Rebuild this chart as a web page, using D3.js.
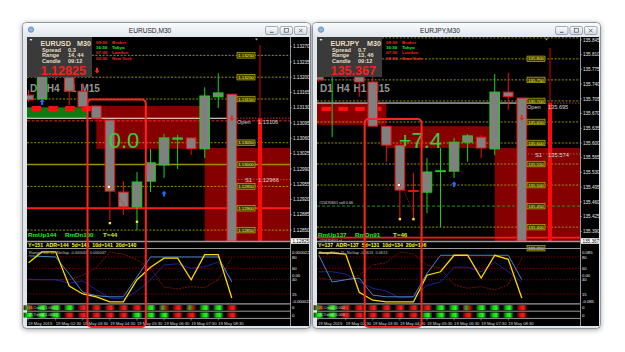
<!DOCTYPE html>
<html><head><meta charset="utf-8">
<script src="https://cdn.jsdelivr.net/npm/d3@7"></script>
<style>body{margin:0;background:#fff;overflow:hidden}svg{display:block}text{font-family:"Liberation Sans",Arial,sans-serif;white-space:pre}</style>
</head><body><svg id="c" width="625" height="352"></svg>
<script>
// ---------- DATA ----------
const times=["01:30","02:00","02:30","03:00","03:30","04:00","04:30","05:00","05:30","06:00","06:30","07:00","07:30","08:00","08:30","09:00"];
const dateLabel="19 May", yearLabel="19 May 2015";
const tfLabels=["D1","H4","H1","M15"];
const sessionTimes=["09:30","16:30","07:30","02:30"];
const sessionNames=["Broker","Tokyo","London","New York"];
const infoKeys=["Spread","Range","Candle"];

const eurusdOpen =[1.13159,1.13150,1.13235,1.13200,1.13168,1.13134,1.13102,1.12937,1.12903,1.12962,1.12999,1.13058,1.13061,1.13036,1.13155,1.13161];
const eurusdHigh =[1.13171,1.13207,1.13262,1.13200,1.13187,1.13134,1.13102,1.12962,1.12983,1.13036,1.13070,1.13068,1.13061,1.13177,1.13209,1.13161];
const eurusdLow  =[1.13143,1.13141,1.13193,1.13136,1.13129,1.13106,1.12873,1.12885,1.12850,1.12937,1.12969,1.12990,1.13022,1.13015,1.13129,1.12825];
const eurusdClose=[1.13148,1.13200,1.13203,1.13168,1.13132,1.13106,1.12939,1.12903,1.12960,1.13004,1.13061,1.13061,1.13036,1.13157,1.13164,1.12825];

const eurjpyOpen =[135.757,135.762,135.810,135.757,135.745,135.640,135.595,135.487,135.483,135.532,135.533,135.602,135.614,135.586,135.721,135.707];
const eurjpyHigh =[135.762,135.821,135.833,135.774,135.779,135.640,135.595,135.529,135.564,135.588,135.612,135.621,135.619,135.764,135.767,135.707];
const eurjpyLow  =[135.745,135.614,135.755,135.710,135.640,135.555,135.417,135.417,135.433,135.400,135.517,135.555,135.564,135.571,135.679,135.367];
const eurjpyClose=[135.750,135.798,135.774,135.745,135.640,135.595,135.488,135.485,135.531,135.534,135.602,135.617,135.588,135.721,135.710,135.367];

const eurusdRange=[1.12825,1.13292];
const eurjpyRange=[135.367,135.852];
const eurusdTicks=[1.13270,1.13235,1.13200,1.13165,1.13130,1.13095,1.13060,1.13025,1.12990,1.12955,1.12920,1.12885,1.12850];
const eurjpyTicks=[135.845,135.810,135.775,135.740,135.705,135.670,135.635,135.600,135.565,135.530,135.495,135.460,135.425,135.390];
const eurusdLevels=[1.13250,1.13200,1.13150,1.13050,1.13000,1.12950,1.12900,1.12850];
const eurjpyLevels=[135.850,135.800,135.750,135.700,135.650,135.600,135.550,135.500,135.450,135.400,135.350];
const eurusdZones=[[5,13,1.13036,1.13134],[13,20,1.12800,1.13038]];
const eurjpyZones=[[5,13,135.588,135.640],[13,20,135.300,135.588]];
const eurusdDay=[1.13106,1.13273,1.12825,1.12825];
const eurjpyDay=[135.695,135.826,135.367,135.367];

const eurusdYellow=[70,89,89,29,15,10,1,1,40,62,78,78,40,84,84,8];
const eurusdSteel =[82,81,80,50,18,12,10,10,45,80,80,80,80,80,80,36];
const eurusdNavy  =[41,40,40,34,38,22,8,6,20,40,66,68,60,63,71,40];
const eurusdMaroon=[40,40,40,40,48,61,89,85,75,60,27,24,28,26,40,78];
const eurjpyYellow=[87,87,85,18,4,1,1,1,48,54,83,83,43,83,76,8];
const eurjpySteel =[84,36,40,43,13,10,10,10,51,83,83,83,83,83,83,40];
const eurjpyNavy  =[54,54,50,36,25,20,8,10,30,36,62,62,54,71,54,36];
const eurjpyMaroon=[43,40,40,48,66,70,89,85,66,60,31,25,28,22,31,78];
const oscLevels=[80,60,40,15];

const eurusdStripA=[0,1,1,1,-1,-1,-1,-1,-1,1,0,-1,0,1,1,-1];
const eurusdStripB=[1,1,1,-1,-1,-1,-1,-1,1,1,1,-1,-1,1,1,-1];
const eurjpyStripA=[0,1,-1,-1,-1,-1,-1,-1,-1,1,1,0,1,1,1,-1];
const eurjpyStripB=[1,1,-1,-1,-1,-1,-1,-1,1,1,1,-1,1,1,1,-1];

const eurusdInfoVals=["0.3","14, 44","09:12"];
const eurjpyInfoVals=["0.7","13, 46","09:12"];
const eurusdStats="Y=151  ADR=144  5d=141  10d=141  20d=140";
const eurjpyStats="Y=137  ADR=137  5d=131  10d=134  20d=146";
const eurusdRoom=["RmUp144","RmDn100","T=44"];
const eurjpyRoom=["RmUp137","RmDn91","T=46"];

const charts=[
 {key:"eu",x0:22,title:"EURUSD,M30",sym:"EURUSD",fmt:".5f",price:1.12825,priceArrow:true,
  o:eurusdOpen,h:eurusdHigh,l:eurusdLow,c:eurusdClose,range:eurusdRange,ticks:eurusdTicks,levels:eurusdLevels,
  olive:1.13000,green:null,stop:1.12900,mid:1.13100,open:1.13106,s1:1.12966,zones:eurusdZones,day:eurusdDay,
  band:[1.13106,1.13131],bandEnd:4.4,bandColor:"#107a10",block:[1.13122,1.13134],
  ups:[[1,1.13143],[10,1.12933]],downs:[[15,1.13106]],trade:[6,1.12949,7.5,1.12889],marks:[[6,1.12866],[8,1.12869]],
  delta:"0.0",hl:[4.35,8.65,1.13149],info:eurusdInfoVals,stats:eurusdStats,room:eurusdRoom,
  osc:[eurusdMaroon,eurusdNavy,eurusdSteel,eurusdYellow],oscLbl:"RangeFilter 15  NoGap -0.000068  0.000047",oscTop:"0.000022",oscBot:"-0.000022",
  stripA:eurusdStripA,stripB:eurusdStripB,sA:"#I-Cross  1.000",sB:"#I-Trend  1.000",orders:[]},
 {key:"ej",x0:312,title:"EURJPY,M30",sym:"EURJPY",fmt:".3f",price:135.367,priceArrow:false,
  o:eurjpyOpen,h:eurjpyHigh,l:eurjpyLow,c:eurjpyClose,range:eurjpyRange,ticks:eurjpyTicks,levels:eurjpyLevels,
  olive:null,green:135.450,stop:135.375,mid:null,open:135.695,s1:135.574,zones:eurjpyZones,day:eurjpyDay,
  band:[135.643,135.695],bandEnd:5.0,bandColor:"#870000",block:[135.676,135.686],
  ups:[[10,135.502]],downs:[[15,135.660]],trade:[6,135.500,7.0,135.433],marks:[[6,135.419],[7,135.419]],
  delta:"+7.4",hl:[3.4,7.6,135.657],info:eurjpyInfoVals,stats:eurjpyStats,room:eurjpyRoom,
  osc:[eurjpyMaroon,eurjpyNavy,eurjpySteel,eurjpyYellow],oscLbl:"RangeFilter 15  NoGap -0.0613  0.0613",oscTop:"0.085",oscBot:"-0.085",
  stripA:eurjpyStripA,stripB:eurjpyStripB,sA:"#I-Cross  0.000",sB:"#I-Trend  0.000",orders:[[135.452,"#15670601 sell 0.66"],[135.362,"#15670601 sl"]]}
];

// ---------- DRAW ----------
const svg=d3.select("#c");
const defs=svg.append("defs");
const flt=defs.append("filter").attr("id","sh").attr("x","-6%").attr("y","-6%").attr("width","112%").attr("height","112%");
flt.append("feDropShadow").attr("dx",0).attr("dy",1).attr("stdDeviation",2.6).attr("flood-color","#000").attr("flood-opacity",0.35);
function lg(id,stops,horiz){
  const gr=defs.append("linearGradient").attr("id",id).attr("x1",0).attr("y1",0).attr("x2",horiz?1:0).attr("y2",horiz?0:1);
  stops.forEach((s,k)=>gr.append("stop").attr("offset",(k/(stops.length-1)*100)+"%").attr("stop-color",s));
}
lg("tb",["#f9fafc","#e3e8ee"]);
lg("btn",["#fdfdfe","#d3dae2"]);
lg("sr",["#3a0000","#d01010","#f02020","#3a0000"],true);
lg("sg",["#003a00","#10d010","#30f030","#003a00"],true);
lg("sm",["#600000","#30b030","#b02000","#4a0000"],true);

function upArrow(g,cx,cy,col,dir){
  const s=dir;
  g.append("path").attr("d",`M${cx},${cy-3*s} L${cx+2.6},${cy} L${cx+1},${cy} L${cx+1},${cy+2.8*s} L${cx-1},${cy+2.8*s} L${cx-1},${cy} L${cx-2.6},${cy} Z`).attr("fill",col);
}

function drawChart(c){
  const x0=c.x0,L=x0+5,R=x0+268,AX=x0+287,TOP=37,MB=241,BOT=326;
  const n=times.length;
  const x=d3.scaleLinear().domain([0,n-1]).range([x0+6.6,x0+209.8]);
  const y=d3.scaleLinear().domain(c.range).range([MB,TOP]);
  const yi=d3.scaleLinear().domain([0,100]).range([302.5,245.6]);
  const tfx=d3.scalePoint().domain(tfLabels).range([x0+8,x0+58.4]);
  const fmt=d3.format(c.fmt);
  const g=svg.append("g");

  // window frame
  g.append("rect").attr("x",x0+0.5).attr("y",22.5).attr("width",288).attr("height",306).attr("rx",4)
    .attr("fill","#e1e6ec").attr("stroke","#8d969f").attr("filter","url(#sh)");
  g.append("rect").attr("x",x0+1).attr("y",23).attr("width",287).attr("height",13).attr("rx",3.5).attr("fill","url(#tb)");
  g.append("text").attr("x",x0+128).attr("y",32.6).attr("text-anchor","middle").attr("font-size",6.6).attr("fill","#1e1e1e").text(c.title);
  g.append("circle").attr("cx",x0+9).attr("cy",29.6).attr("r",2.7).attr("fill","#8fb3dd").attr("stroke","#3d6fae").attr("stroke-width",0.6);
  [0,1,2].forEach(k=>{
    const bx=x0+243.5+k*14.5;
    g.append("rect").attr("x",bx).attr("y",26.5).attr("width",12.5).attr("height",8).attr("rx",1.6).attr("fill","url(#btn)").attr("stroke","#7d8791").attr("stroke-width",0.7);
    if(k===0) g.append("line").attr("x1",bx+4.5).attr("x2",bx+8).attr("y1",32.3).attr("y2",32.3).attr("stroke","#555").attr("stroke-width",0.9);
    if(k===1) g.append("rect").attr("x",bx+4.3).attr("y",28.6).attr("width",4).attr("height",3.6).attr("fill","none").attr("stroke","#555").attr("stroke-width",0.7);
    if(k===2) g.append("path").attr("d",`M${bx+4.5},${28.8} L${bx+8},${32.3} M${bx+8},${28.8} L${bx+4.5},${32.3}`).attr("stroke","#555").attr("stroke-width",0.8);
  });
  g.append("rect").attr("x",L).attr("y",TOP).attr("width",AX-L).attr("height",BOT-TOP).attr("fill","#000");

  const cid="clip-"+c.key;
  defs.append("clipPath").attr("id",cid).append("rect").attr("x",L).attr("y",TOP).attr("width",R-L).attr("height",MB-TOP);
  const m=g.append("g").attr("clip-path",`url(#${cid})`);

  // zones
  c.zones.forEach(z=>m.append("rect").attr("x",x(z[0])).attr("y",y(z[3])).attr("width",x(z[1])-x(z[0])).attr("height",y(z[2])-y(z[3])).attr("fill","#850000"));
  // trend band
  m.append("rect").attr("x",L).attr("y",y(c.band[1])).attr("width",x(c.bandEnd)-L).attr("height",y(c.band[0])-y(c.band[1])).attr("fill",c.bandColor);
  tfLabels.forEach(t=>m.append("rect").attr("x",tfx(t)+1.6).attr("y",y(c.block[1])).attr("width",9.5).attr("height",y(c.block[0])-y(c.block[1])).attr("fill","#ff1010"));

  // level lines
  c.levels.forEach(v=>{
    let s="#b9b900",w=0.8,d="2,1.6";
    if(v===c.olive){s="#a08c00";w=1.6;d=null;}
    if(v===c.green){s="#1ea51e";w=0.9;d="3,2";}
    m.append("line").attr("x1",L).attr("x2",R).attr("y1",y(v)).attr("y2",y(v)).attr("stroke",s).attr("stroke-width",w).attr("stroke-dasharray",d);
  });
  if(c.mid!==null) m.append("line").attr("x1",L).attr("x2",R).attr("y1",y(c.mid)).attr("y2",y(c.mid)).attr("stroke","#ff2a2a").attr("stroke-width",0.9).attr("stroke-dasharray","3,1.5");
  m.append("line").attr("x1",L).attr("x2",R).attr("y1",y(c.stop)).attr("y2",y(c.stop)).attr("stroke","#ff1a1a").attr("stroke-width",1.8);
  // open line
  m.append("line").attr("x1",L).attr("x2",x0+212).attr("y1",y(c.open)).attr("y2",y(c.open)).attr("stroke","#f2f2f2").attr("stroke-width",1);
  m.append("line").attr("x1",x0+212).attr("x2",R).attr("y1",y(c.open)).attr("y2",y(c.open)).attr("stroke","#e0407a").attr("stroke-width",0.8).attr("stroke-dasharray","1.5,1.5");
  m.append("line").attr("x1",x0+213).attr("x2",R).attr("y1",y(c.s1)).attr("y2",y(c.s1)).attr("stroke","#8a7a30").attr("stroke-width",0.8).attr("stroke-dasharray","1.5,1.5");

  // timeframe labels
  tfLabels.forEach(t=>m.append("text").attr("x",tfx(t)).attr("y",92).attr("font-size",10).attr("font-weight","bold").attr("fill","#959595").text(t));

  // candles
  d3.range(n).forEach(i=>{
    const bull=c.c[i]>=c.o[i], col=bull?"#19d219":"#f01010";
    m.append("line").attr("x1",x(i)).attr("x2",x(i)).attr("y1",y(c.h[i])).attr("y2",y(c.l[i])).attr("stroke",col).attr("stroke-width",1);
    const yt=y(Math.max(c.o[i],c.c[i])), yb=y(Math.min(c.o[i],c.c[i]));
    m.append("rect").attr("x",x(i)-4.8).attr("width",9.6).attr("y",yt).attr("height",Math.max(0.6,yb-yt)).attr("fill","#808080").attr("stroke",col).attr("stroke-width",1);
  });
  // daily candle
  const dx=x0+238;
  m.append("line").attr("x1",dx).attr("x2",dx).attr("y1",y(c.day[1])).attr("y2",y(c.day[0])).attr("stroke","#e00000").attr("stroke-width",1);
  m.append("rect").attr("x",dx-2).attr("width",4).attr("y",y(c.day[0])).attr("height",y(c.day[3])-y(c.day[0])).attr("fill","#ff0a0a");

  // trade markers
  m.append("line").attr("x1",x(c.trade[0])+3).attr("y1",y(c.trade[1])+3).attr("x2",x(c.trade[2])).attr("y2",y(c.trade[3])).attr("stroke","#c01818").attr("stroke-width",0.8).attr("stroke-dasharray","1,1");
  m.append("circle").attr("cx",x(c.trade[0])-1).attr("cy",y(c.trade[1])).attr("r",1.8).attr("fill","#fff").attr("stroke","#e02020").attr("stroke-width",0.8);
  c.marks.forEach((mk,k)=>m.append("rect").attr("x",x(mk[0])-1.2).attr("y",y(mk[1])-1.2).attr("width",2.4).attr("height",2.4).attr("fill","#ffe040"));
  c.ups.forEach(a=>upArrow(m,x(a[0]),y(a[1]),"#2a66ff",1));
  c.downs.forEach(a=>upArrow(m,x(a[0]),y(a[1]),"#ff2020",-1));

  // order texts
  c.orders.forEach(o=>m.append("text").attr("x",L+2).attr("y",y(o[0])-1).attr("font-size",3.8).attr("fill","#dddddd").text(o[1]));

  // level boxes
  c.levels.forEach(v=>{
    if(y(v)<TOP+1) return;
    g.append("rect").attr("x",x0+215).attr("y",y(v)-2.8).attr("width",18).attr("height",5.6).attr("fill","#3b3800").attr("stroke","#d2c400").attr("stroke-width",0.6);
    g.append("text").attr("x",x0+224).attr("y",y(v)+1.6).attr("text-anchor","middle").attr("font-size",4.3).attr("fill","#ffff50").text(fmt(v));
  });
  // open / s1 labels
  g.append("text").attr("x",x0+215).attr("y",y(c.open)+6).attr("font-size",5.6).attr("fill","#d6d6d6").text("Open");
  g.append("text").attr("x",x0+236).attr("y",y(c.open)+6).attr("font-size",5.6).attr("fill","#d6d6d6").text(fmt(c.open));
  g.append("text").attr("x",x0+223).attr("y",y(c.s1)+3).attr("font-size",5.8).attr("fill","#d6d6d6").text("S1");
  g.append("text").attr("x",x0+236).attr("y",y(c.s1)+3).attr("font-size",5.8).attr("fill","#d6d6d6").text(fmt(c.s1));

  // big delta
  g.append("text").attr("x",x(6)-1.2).attr("y",148).attr("font-size",22).attr("fill","#35cf35").text(c.delta);

  // room row
  const roomX=[x0+6,x0+43,x0+81], roomC=["#22ee22","#22ee22","#c8f020"];
  c.room.forEach((t,k)=>g.append("text").attr("x",roomX[k]).attr("y",236.5).attr("font-size",6.2).attr("font-weight","bold").attr("fill",roomC[k]).text(t));

  // info box
  g.append("rect").attr("x",L).attr("y",TOP).attr("width",65).attr("height",40).attr("fill","#3a3a3a");
  g.append("path").attr("d",`M${L+2.5},${TOP+2} l3,0 l-1.5,2 z`).attr("fill","#eee");
  g.append("text").attr("x",x0+18.5).attr("y",46).attr("font-size",7.2).attr("font-weight","bold").attr("fill","#e9dfc2").text(c.sym);
  g.append("text").attr("x",x0+55).attr("y",46).attr("font-size",7.2).attr("font-weight","bold").attr("fill","#e9dfc2").text("M30");
  infoKeys.forEach((k,j)=>{
    g.append("text").attr("x",x0+20).attr("y",51.5+j*5.7).attr("font-size",5.6).attr("font-weight","bold").attr("fill","#e9dfc2").text(k);
    g.append("text").attr("x",x0+46).attr("y",51.5+j*5.7).attr("font-size",5.6).attr("font-weight","bold").attr("fill","#e9dfc2").text(c.info[j]);
  });
  g.append("text").attr("x",x0+18.5).attr("y",75).attr("font-size",12.6).attr("font-weight","bold").attr("fill","#ff1c1c").text(fmt(c.price));
  if(c.priceArrow) upArrow(g,x0+75,70.5,"#ff2020",-1);
  const sesC=["#ff2020","#22ee22","#ff2020","#ff2020"];
  sessionTimes.forEach((t,j)=>{
    g.append("text").attr("x",x0+74).attr("y",43.6+j*5.3).attr("font-size",4.4).attr("font-weight","bold").attr("fill",sesC[j]).text(t);
    g.append("text").attr("x",x0+90).attr("y",43.6+j*5.3).attr("font-size",4.4).attr("font-weight","bold").attr("fill",sesC[j]).text(sessionNames[j]);
  });
  g.append("path").attr("d",`M${x0+233},${TOP+1.5} l3,0 l-1.5,2 z`).attr("fill","#aaa");

  // price axis
  g.append("line").attr("x1",R+0.5).attr("x2",R+0.5).attr("y1",TOP).attr("y2",BOT).attr("stroke","#bdbdbd").attr("stroke-width",0.8);
  c.ticks.forEach(v=>{
    g.append("line").attr("x1",R).attr("x2",R+2).attr("y1",y(v)).attr("y2",y(v)).attr("stroke","#bbb").attr("stroke-width",0.6);
    g.append("text").attr("x",R+3).attr("y",y(v)+1.7).attr("font-size",4.6).attr("fill","#e8e8e8").text(fmt(v));
  });
  g.append("rect").attr("x",R+1).attr("y",MB-2.8).attr("width",18).attr("height",5.6).attr("fill","#fff");
  g.append("text").attr("x",R+2.5).attr("y",MB+1.6).attr("font-size",4.6).attr("fill","#000").text(fmt(c.price));

  // separators & stats
  [[241.5,1.6],[248.5,1],[303.8,1.2],[311.2,1],[318.4,1]].forEach(s=>g.append("line").attr("x1",L).attr("x2",R).attr("y1",s[0]).attr("y2",s[0]).attr("stroke","#9a9a9a").attr("stroke-width",s[1]));
  g.append("text").attr("x",L+1).attr("y",246.8).attr("font-size",5.2).attr("font-weight","bold").attr("fill","#ffff20").text(c.stats);

  // oscillator
  const oc="oclip-"+c.key;
  defs.append("clipPath").attr("id",oc).append("rect").attr("x",L).attr("y",249).attr("width",R-L).attr("height",54.3);
  const og=g.append("g").attr("clip-path",`url(#${oc})`);
  oscLevels.forEach(v=>og.append("line").attr("x1",L).attr("x2",R).attr("y1",yi(v)).attr("y2",yi(v)).attr("stroke","#8b0000").attr("stroke-width",0.8).attr("stroke-dasharray","1.5,1.5"));
  const oscCol=["#9a1010","#1c2fb8","#3f86c8","#ffd800"], oscW=[0.8,0.8,1,1.3], oscD=["2,1",null,null,null];
  c.osc.forEach((arr,k)=>{
    og.append("path").datum(arr).attr("d",d3.line().x((v,i)=>x(i)).y(v=>yi(v))).attr("fill","none").attr("stroke",oscCol[k]).attr("stroke-width",oscW[k]).attr("stroke-dasharray",oscD[k]);
  });
  og.append("text").attr("x",L+2).attr("y",253.5).attr("font-size",3.9).attr("fill","#c4c4c4").text(c.oscLbl);
  const oLab=[[c.oscTop,88],["80",80],["60",60],["0.00",48],["40",40],["15",15],[c.oscBot,2]];
  oLab.forEach(o=>g.append("text").attr("x",R+2).attr("y",yi(o[1])+1.6).attr("font-size",4.2).attr("fill","#e8e8e8").text(o[0]));

  // strips
  const sf={"1":"url(#sg)","-1":"url(#sr)","0":"url(#sm)"};
  [[c.stripA,305.2,c.sA],[c.stripB,312.6,c.sB]].forEach(row=>{
    row[0].forEach((v,i)=>g.append("rect").attr("x",x(i)-5).attr("y",row[1]).attr("width",10).attr("height",5).attr("fill",sf[String(v)]));
    g.append("text").attr("x",L+2).attr("y",row[1]+3.8).attr("font-size",3.8).attr("fill","#d8d8d8").text(row[2]);
    g.append("text").attr("x",R+2).attr("y",row[1]+4).attr("font-size",4.4).attr("fill","#e8e8e8").text("0");
  });

  // x axis labels
  d3.range(0,n,2).forEach(i=>{
    const xx=i===0?L+1:x(i);
    g.append("line").attr("x1",xx).attr("x2",xx).attr("y1",318.5).attr("y2",320.5).attr("stroke","#bbb").attr("stroke-width",0.6);
    g.append("text").attr("x",xx).attr("y",324.6).attr("font-size",4.2).attr("fill","#dcdcdc").text(i===0?yearLabel:`${dateLabel} ${times[i]}`);
  });

  // highlight
  g.append("rect").attr("x",x(c.hl[0])).attr("y",y(c.hl[2])).attr("width",x(c.hl[1])-x(c.hl[0])).attr("height",327-y(c.hl[2])).attr("rx",4)
    .attr("fill","none").attr("stroke","#ff2424").attr("stroke-width",2);
}
charts.forEach(drawChart);
</script></body></html>
